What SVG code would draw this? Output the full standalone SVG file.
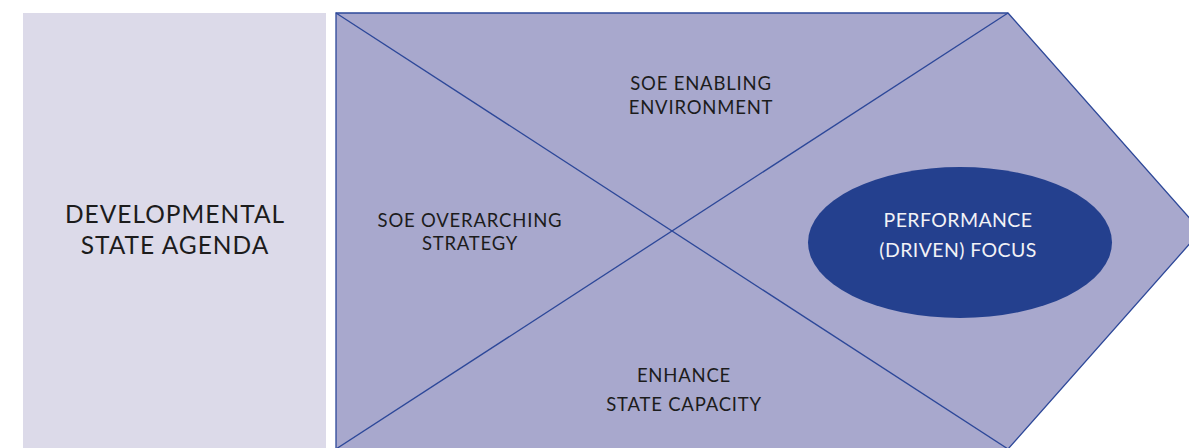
<svg xmlns="http://www.w3.org/2000/svg" width="1189" height="448" viewBox="0 0 1189 448">
<style>
.t{font-family:Lato,"Open Sans","Liberation Sans",sans-serif;font-size:18.5px;letter-spacing:0.8px;fill:#1c1c1c;text-anchor:middle}
.big{font-size:24.5px;letter-spacing:1px}
.w{fill:#f2f2f6;font-size:19.5px;letter-spacing:0.4px}
.ln{stroke:#2d4899;stroke-width:1.3;fill:none}
</style>
<rect width="1189" height="448" fill="#ffffff"/>
<g id="agenda">
<rect x="23" y="13" width="303" height="440" fill="#dcdae9"/>
<text class="t big" x="175" y="223">DEVELOPMENTAL</text>
<text class="t big" x="175" y="254">STATE AGENDA</text>
</g>
<g id="arrow">
<polygon points="336,13 1008,13 1201,231 1008,449 336,449" fill="#a8a8cd" stroke="#2d4899" stroke-width="1.3"/>
</g>
<g id="connectors">
<line class="ln" x1="336" y1="13" x2="1008" y2="449"/>
<line class="ln" x1="1008" y1="13" x2="336" y2="449"/>
</g>
<g id="enabling">
<text class="t" x="701" y="90">SOE ENABLING</text>
<text class="t" x="701" y="114">ENVIRONMENT</text>
</g>
<g id="strategy">
<text class="t" x="470" y="227">SOE OVERARCHING</text>
<text class="t" x="470" y="250">STRATEGY</text>
</g>
<g id="capacity">
<text class="t" x="684" y="382">ENHANCE</text>
<text class="t" x="684" y="411">STATE CAPACITY</text>
</g>
<g id="performance">
<ellipse cx="960" cy="242.5" rx="152" ry="75.5" fill="#24408e"/>
<text class="t w" x="958" y="227">PERFORMANCE</text>
<text class="t w" x="958" y="257">(DRIVEN) FOCUS</text>
</g>
</svg>
